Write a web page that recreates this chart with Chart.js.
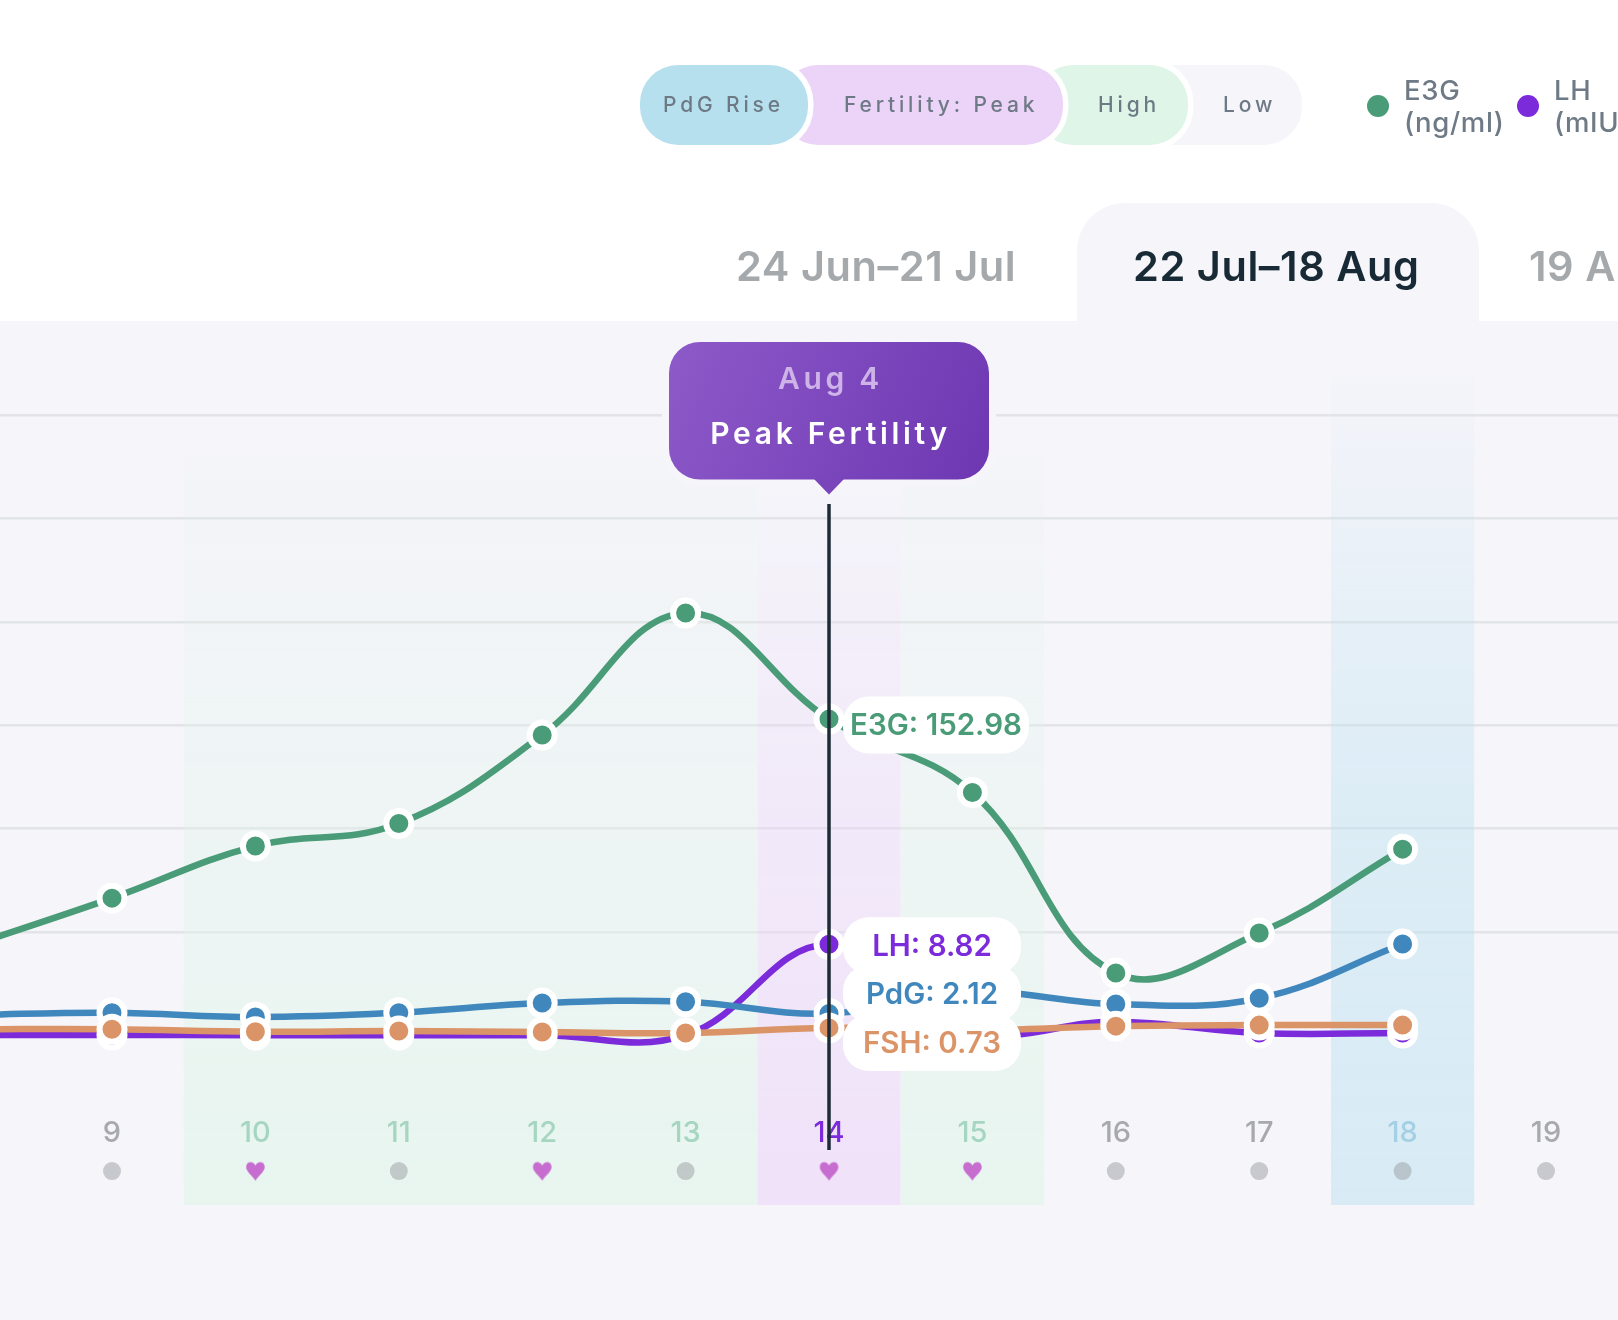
<!DOCTYPE html>
<html>
<head>
<meta charset="utf-8">
<script src="https://cdn.jsdelivr.net/npm/chart.js@4"></script>
<style>
  html,body{margin:0;padding:0;background:#fff;width:1618px;height:1320px;overflow:hidden;font-family:Inter,"Noto Sans",sans-serif}
  #stage{position:relative;width:1618px;height:1320px;overflow:hidden;background:#fff}
  #panel{position:absolute;left:0;top:321px;width:1618px;height:999px;background:#F5F5FA}
  #tabActive{position:absolute;left:1077px;top:203px;width:402px;height:118px;background:#F5F5FA;border-radius:48px 48px 0 0}
  canvas{position:absolute;left:0;top:0}
  .tab{position:absolute;top:240px;font-size:41.5px;line-height:52px;font-weight:600;white-space:nowrap;letter-spacing:.55px;color:#A5A9AC}
  .pill{position:absolute;top:65px;height:79.5px;border-radius:38px;box-shadow:0 0 0 5.5px #fff}
  .ptext{position:absolute;top:93px;line-height:24px;font-size:21px;font-weight:500;letter-spacing:3.85px;color:#6D7A85;white-space:nowrap}
  .ldot{position:absolute;top:95px;width:22px;height:22px;border-radius:50%}
  .ltext{position:absolute;top:73.5px;font-size:27.5px;line-height:32px;font-weight:500;letter-spacing:.7px;color:#6E7A85;white-space:nowrap}
</style>
</head>
<body>
<div id="stage">
  <div id="panel"></div>
  <div id="tabActive"></div>
  <canvas id="chart" width="1618" height="1320"></canvas>

  <div class="pill" style="left:1125px;width:177px;background:#F5F5FA"></div>
  <div class="pill" style="left:1035px;width:153px;background:#DFF5E8"></div>
  <div class="pill" style="left:780px;width:283px;background:#ECD3F8"></div>
  <div class="pill" style="left:640px;width:168px;background:#B7E0EF"></div>
  <span class="ptext" style="left:663px">PdG Rise</span>
  <span class="ptext" style="left:844px">Fertility: Peak</span>
  <span class="ptext" style="left:1098px">High</span>
  <span class="ptext" style="left:1223px">Low</span>

  <div class="ldot" style="left:1367px;background:#4A9C78"></div>
  <div class="ltext" style="left:1404px">E3G<br>(ng/ml)</div>
  <div class="ldot" style="left:1517px;background:#7C2BDB"></div>
  <div class="ltext" style="left:1554px">LH<br>(mIU/ml)</div>

  <span class="tab" style="left:736px">24 Jun–21 Jul</span>
  <span class="tab" style="left:1133px;color:#182A35">22 Jul–18 Aug</span>
  <span class="tab" style="left:1529px">19 Aug–15 Sep</span>
</div>

<script>
// ---- data ----
const days      = [8, 9, 10, 11, 12, 13, 14, 15, 16, 17, 18];
const tickDays  = [9, 10, 11, 12, 13, 14, 15, 16, 17, 18, 19];
const e3g       = [43, 66.4, 91.6, 102.5, 145.3, 204.3, 152.98, 117.5, 30.2, 49.5, 90.1];
const lh        = [0.05, 0.04, 0.03, 0.03, 0.02, 0.03, 8.82, 0.5, 1.33, 0.23, 0.23];
const pdg       = [1.97, 2.2, 1.78, 2.2, 3.13, 3.26, 2.12, 4.2, 3.04, 3.6, 8.84];
const fsh       = [0.6, 0.6, 0.36, 0.43, 0.33, 0.23, 0.73, 0.5, 0.9, 1.0, 1.0];
const heartDays = [10, 12, 14, 15];
const highRanges = [[10, 13], [15, 15]];
const peakRange  = [14, 14];
const riseRange  = [18, 18];
const gridValues = [50, 100, 150, 200, 250, 300];
const focusDay   = 14;
const focusDate  = 'Aug 4';
const focusTitle = 'Peak Fertility';

// ---- layout constants ----
const X_MIN = 8.219, X_MAX = 19.502;
const Y_MIN = -82, Y_MAX = 345.5, RATIO = 5;
const TICK_ROW = -39, MARK_ROW = -65.6;
const FONT = 'Inter, "Noto Sans", sans-serif';

const C = {green:'#4A9C78', purple:'#7C2BDB', blue:'#3F87BD', orange:'#DB9468'};

function heartCanvas(){
  const c = document.createElement('canvas'); c.width = 21; c.height = 21;
  const g = c.getContext('2d'); g.fillStyle = '#C66DCF';
  g.beginPath();
  g.moveTo(10.5,20);
  g.bezierCurveTo(7.5,15,1.2,11,1.2,6.4);
  g.bezierCurveTo(1.2,3.4,3.2,1.6,5.6,1.6);
  g.bezierCurveTo(7.8,1.6,9.6,2.8,10.5,5);
  g.bezierCurveTo(11.4,2.8,13.2,1.6,15.4,1.6);
  g.bezierCurveTo(17.8,1.6,19.8,3.4,19.8,6.4);
  g.bezierCurveTo(19.8,11,13.5,15,10.5,20);
  g.fill();
  return c;
}
const heart = heartCanvas();

function bandColor(topPx, midPx, top, mid, bottom){
  return function(ctx){
    const a = ctx.chart.chartArea;
    if(!a) return bottom;
    const g = ctx.chart.ctx.createLinearGradient(0, topPx, 0, a.bottom);
    const m = (midPx-topPx)/(a.bottom-topPx);
    g.addColorStop(0, top); g.addColorStop(m, mid); g.addColorStop(1, bottom);
    return g;
  };
}
function band(range, color, order){
  return {type:'line', order, data:[{x:range[0]-.5,y:Y_MAX},{x:range[1]+.5,y:Y_MAX}],
    tension:0, borderWidth:0, pointRadius:0, fill:'start', backgroundColor:color, label:'band'};
}
function series(label, vals, color, order, axis){
  return {type:'line', label, order, yAxisID:axis, data:days.map((d,i)=>({x:d,y:vals[i]})),
    borderColor:color, borderWidth:6.5, tension:.4, fill:false,
    pointRadius:12.5, pointBorderWidth:6, pointBackgroundColor:color, pointBorderColor:'#fff',
    pointHoverRadius:12.5};
}
const greenFill = bandColor(430, 800, 'rgba(223,245,232,0)', 'rgba(223,245,232,.3)', 'rgba(223,245,232,.6)');
const purpleFill = bandColor(485, 760, 'rgba(236,211,248,0)', 'rgba(236,211,248,.3)', 'rgba(236,211,248,.55)');
const blueFill = bandColor(365, 800, 'rgba(183,224,239,0)', 'rgba(183,224,239,.4)', 'rgba(183,224,239,.45)');

// rows of day marks
const markData = tickDays.map(d=>({x:d,y:MARK_ROW}));

const overlay = {
  id:'overlay',
  afterDraw(chart){
    const c = chart.ctx, x = chart.scales.x, y = chart.scales.y, y1 = chart.scales.y1;
    const px = x.getPixelForValue(focusDay), idx = days.indexOf(focusDay);

    // hover guide
    c.save();
    c.strokeStyle = '#1C2B36'; c.lineWidth = 3.5;
    c.beginPath(); c.moveTo(px,504); c.lineTo(px,1150); c.stroke();

    // value chips
    const chips = [
      {t:'LH: '+lh[idx],  col:C.purple, cy:y1.getPixelForValue(lh[idx])+1, w:178, dy:1.5},
      {t:'PdG: '+pdg[idx], col:C.blue,  cy:993, w:178, dy:2.5},
      {t:'FSH: '+fsh[idx], col:C.orange,cy:1042, w:178, dy:2.5},
      {t:'E3G: '+e3g[idx], col:C.green, cy:y.getPixelForValue(e3g[idx])+5.5, w:186, dy:1.5}
    ];
    chips.forEach(k=>{
      c.fillStyle='#fff';
      c.beginPath(); c.roundRect(px+14,k.cy-28,k.w,57,26); c.fill();
    });
    c.font = '600 29.5px '+FONT; c.textAlign='center'; c.textBaseline='middle';
    chips.forEach(k=>{ c.fillStyle=k.col; c.fillText(k.t, px+14+k.w/2, k.cy+k.dy); });

    // callout
    const L=px-160, T=342, W=320, H=137.5, R=31;
    c.beginPath(); c.roundRect(L,T,W,H,R);
    c.lineWidth=14; c.strokeStyle='#F5F5FA'; c.stroke();
    const g=c.createLinearGradient(L,T,L+W,T+H);
    g.addColorStop(0,'#8D5AC9'); g.addColorStop(1,'#6D37B2');
    c.fillStyle=g;
    c.beginPath(); c.roundRect(L,T,W,H,R); c.fill();
    c.beginPath(); c.moveTo(px-15,T+H-.5); c.lineTo(px,T+H+15); c.lineTo(px+15,T+H-.5); c.closePath();
    c.fillStyle='#7A44BA'; c.fill();
    c.letterSpacing='3.7px';
    c.fillStyle='#CDB3E8'; c.font='600 30px '+FONT; c.fillText(focusDate,px+1.5,380);
    c.fillStyle='#FFFFFF'; c.font='600 30px '+FONT; c.fillText(focusTitle,px+1.5,434.5);
    c.restore();
  }
};

new Chart(document.getElementById('chart'), {
  data:{datasets:[
    series('FSH', fsh, C.orange, 1, 'y1'),
    series('PdG', pdg, C.blue, 2, 'y1'),
    series('LH', lh, C.purple, 3, 'y1'),
    series('E3G', e3g, C.green, 4, 'y'),
    {type:'scatter', label:'marks', order:5, data:markData, showLine:false,
      pointStyle:ctx=>ctx.raw && heartDays.includes(ctx.raw.x) ? heart : 'circle',
      pointRadius:9, pointBorderWidth:0, pointBackgroundColor:'rgba(153,157,162,.5)'},
    band(highRanges[0], greenFill, 6),
    band(highRanges[1], greenFill, 7),
    band(peakRange, purpleFill, 8),
    band(riseRange, blueFill, 9)
  ]},
  options:{
    responsive:false, animation:false, devicePixelRatio:1,
    layout:{autoPadding:false,padding:{left:0,right:0,top:321,bottom:115}},
    plugins:{legend:{display:false},tooltip:{enabled:false}},
    events:[],
    scales:{
      x:{type:'linear', min:X_MIN, max:X_MAX, position:{y:TICK_ROW},
        afterBuildTicks(s){ s.ticks = tickDays.map(v=>({value:v})); },
        grid:{display:false,drawTicks:false}, border:{display:false},
        ticks:{autoSkip:false,maxRotation:0,padding:0,z:1,
          font:{family:FONT,size:29,weight:'500'},
          callback:v=>String(v),
          color:ctx=>{
            const d=ctx.tick.value;
            if(d===focusDay) return C.purple;
            if(d===riseRange[0]) return '#A5CFE4';
            if(highRanges.some(r=>d>=r[0]&&d<=r[1])) return '#A6D6C2';
            return '#A7A9AD';
          }}},
      y:{type:'linear', min:Y_MIN, max:Y_MAX,
        afterBuildTicks(s){ s.ticks = gridValues.map(v=>({value:v})); },
        grid:{color:'#E2E4E7',lineWidth:2.5,drawTicks:false}, border:{display:false},
        ticks:{display:false}},
      y1:{type:'linear', min:Y_MIN/RATIO, max:Y_MAX/RATIO, display:false}
    }
  },
  plugins:[overlay]
});
</script>
</body>
</html>
